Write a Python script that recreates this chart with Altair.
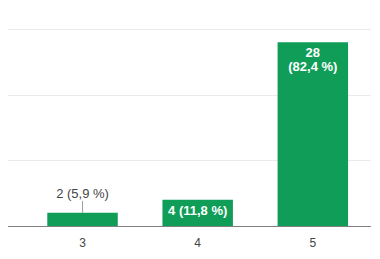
import altair as alt
import pandas as pd

categories = ["1", "2", "3", "4", "5"]
counts = [0, 0, 2, 4, 28]
percents = ["0", "0", "5,9", "11,8", "82,4"]
visible_labels = ["3", "4", "5"]
y_ticks = [0, 10, 20, 30]

rows = []
for c, n, p in zip(categories, counts, percents):
    sep = "\n" if n >= 10 else " "
    rows.append({"cat": c, "n": n, "label": f"{n}{sep}({p} %)" if n > 0 else ""})
df = pd.DataFrame(rows)

GREEN = "#0f9d58"
FONT = "Liberation Sans"

x = alt.X(
    "cat:N",
    sort=categories,
    scale=alt.Scale(domain=categories, range=[-205.35, 370.4],
                    paddingInner=0.388, paddingOuter=0.194),
    axis=alt.Axis(title=None, labelAngle=0, ticks=False, tickSize=0,
                  values=visible_labels,
                  labelPadding=11, labelFontSize=12, labelColor="#444444",
                  labelFont=FONT, domainColor="#808080", domainWidth=1,
                  grid=False),
)
y = alt.Y(
    "n:Q",
    scale=alt.Scale(domain=[0, 30], nice=False),
    axis=alt.Axis(title=None, values=y_ticks, labels=False, ticks=False,
                  domain=False, gridColor="#ebebeb", gridWidth=1),
)

base = alt.Chart(df)
bars = base.mark_bar(color=GREEN).encode(x=x, y=y)

inside = base.transform_filter("datum.n >= 4").mark_text(
    baseline="alphabetic", dy=15, lineBreak="\n", lineHeight=14,
    fontSize=13, fontWeight="bold", color="white", font=FONT,
).encode(x=x, y=y, text="label:N")

outside = base.transform_filter("datum.n > 0 && datum.n < 4").mark_text(
    baseline="alphabetic", dy=-15, fontSize=13, color="#444444", font=FONT,
).encode(x=x, y=y, text="label:N")

leader = base.transform_filter("datum.n > 0 && datum.n < 4").mark_rule(
    color="#9e9e9e", strokeWidth=1, y2Offset=-12,
).encode(x=x, y=y, y2=alt.Y2("n:Q"))

chart = alt.layer(bars, leader, outside, inside).properties(
    width=370,
    height=197,
    padding={"left": -8, "top": 21, "right": 2, "bottom": 28},
    autosize="none",
).configure_view(strokeWidth=0)

chart.save("out.html", embed_options={"renderer": "svg", "actions": False})
